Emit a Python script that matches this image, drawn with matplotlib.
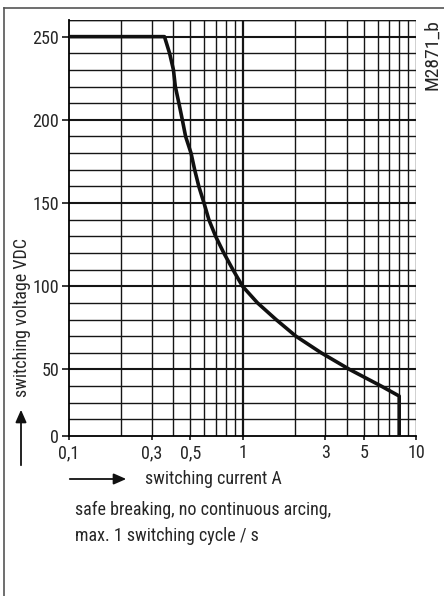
import numpy as np
import matplotlib
matplotlib.use("Agg")
import matplotlib.pyplot as plt
from matplotlib.ticker import FixedLocator
from matplotlib.patches import FancyArrowPatch
import matplotlib.lines as mlines

plt.rcParams['font.family'] = ['Roboto Condensed', 'DejaVu Sans']

# data
current_A = [0.1, 0.355, 0.38, 0.40, 0.41, 0.43, 0.45, 0.47, 0.505, 0.53, 0.56, 0.60, 0.64,
             0.70, 0.78, 0.88, 1.0, 1.22, 1.56, 2.03, 2.84, 4.14, 6.3, 8.0, 8.0]
voltage_V = [250, 250, 240, 230, 220, 210, 200, 190, 180, 170, 160, 150, 140,
             130, 120, 110, 100, 90, 80, 70, 60, 50, 37.5, 30, 0]

x_ticks = [0.1, 0.3, 0.5, 1, 3, 5, 10]
x_tick_labels = ["0,1", "0,3", "0,5", "1", "3", "5", "10"]
y_ticks = [0, 50, 100, 150, 200, 250]
y_tick_labels = ["0", "50", "100", "150", "200", "250"]

TXT = "#262626"
FS = 13

fig = plt.figure(figsize=(4.44, 5.96), dpi=100)
W, H = 444, 596

# outer frame (left and top edges visible)
fig.add_artist(mlines.Line2D([4/W, 4/W], [0, 1 - 8/H], color="#555555", lw=1.2))
fig.add_artist(mlines.Line2D([4/W, 1], [1 - 8/H, 1 - 8/H], color="#555555", lw=1.2))

ax = fig.add_axes([69/W, 1 - 436/H, (416 - 69)/W, (436 - 20)/H])

def fwd(y):
    y = np.asarray(y, float)
    return np.where(y < 50, 10 + 0.8 * y, y)

def inv(p):
    p = np.asarray(p, float)
    return np.where(p < 50, (p - 10) / 0.8, p)

ax.set_xscale('log')
ax.set_yscale('function', functions=(fwd, inv))
ax.set_xlim(0.1, 10)
ax.set_ylim(0, 260)

# grid
GC = "#151515"
x_minor = [v * d for d in (0.1, 1) for v in range(2, 10)]
for xv in x_minor:
    ax.axvline(xv, color=GC, lw=1.0, zorder=1)
ax.axvline(1, color=GC, lw=1.6, zorder=1)
ax.axvline(10, color=GC, lw=1.0, zorder=1)
y_minor = [12.5, 25, 37.5] + [v for v in range(60, 261, 10) if v % 50 != 0]
for yv in y_minor:
    ax.axhline(yv, color=GC, lw=1.0, zorder=1)
for yv in y_ticks[1:]:
    ax.axhline(yv, color=GC, lw=1.5, zorder=1)
ax.axhline(260, color=GC, lw=1.0, zorder=1)

ax.plot(current_A, voltage_V, color="#111111", lw=2.6, zorder=3, solid_joinstyle='round')

ax.xaxis.set_major_locator(FixedLocator(x_ticks))
ax.xaxis.set_minor_locator(FixedLocator([]))
ax.set_xticklabels(x_tick_labels)
ax.yaxis.set_major_locator(FixedLocator(y_ticks))
ax.yaxis.set_minor_locator(FixedLocator([]))
ax.set_yticklabels(y_tick_labels)
ax.tick_params(axis='both', labelsize=FS, colors=GC, labelcolor=TXT, length=5, width=1.2)
ax.tick_params(axis='x', length=3, pad=3)
ax.tick_params(axis='y', pad=2)
for s in ['top', 'right']:
    ax.spines[s].set_visible(False)
ax.spines['left'].set_linewidth(1.3)
ax.spines['bottom'].set_linewidth(1.3)

# axis labels and arrows
fig.text(22/W, 1 - 318/H, "switching voltage VDC", rotation=90, ha='center', va='center',
         fontsize=FS, color=TXT)
fig.add_artist(FancyArrowPatch((21/W, 1 - 468/H), (21/W, 1 - 407/H), transform=fig.transFigure,
                               arrowstyle='-|>,head_length=5,head_width=2.2', color="#111111", lw=1.3,
                               mutation_scale=1.5))
fig.add_artist(FancyArrowPatch((67/W, 1 - 479/H), (129/W, 1 - 479/H), transform=fig.transFigure,
                               arrowstyle='-|>,head_length=5,head_width=2.2', color="#111111", lw=1.3,
                               mutation_scale=1.5))
fig.text(145/W, 1 - 479/H, "switching current A", ha='left', va='center', fontsize=FS, color=TXT)
fig.text(75/W, 1 - 510/H, "safe breaking, no continuous arcing,", ha='left', va='center',
         fontsize=FS, color=TXT)
fig.text(75/W, 1 - 536/H, "max. 1 switching cycle / s", ha='left', va='center',
         fontsize=FS, color=TXT)
fig.text(432/W, 1 - 55/H, "M2871_b", rotation=90, ha='center', va='center', fontsize=14, color=TXT)

fig.savefig("out.png", dpi=100)
